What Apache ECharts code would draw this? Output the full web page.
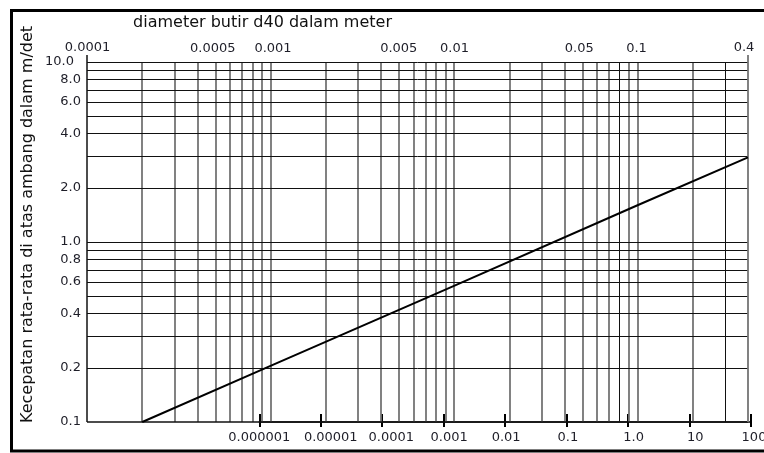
<!DOCTYPE html>
<html><head><meta charset="utf-8">
<script src="https://cdn.jsdelivr.net/npm/echarts@6/dist/echarts.min.js"></script>
<style>html,body{margin:0;padding:0;background:#fff}#c{width:764px;height:453px}</style>
</head><body><div id="c"></div>
<script>
// ---- data ----
const diameterEdges = [0.0001, 0.4];
const diameterEdgeLabels = ['0.0001', '0.4'];
const diameterTicks = [0.0005, 0.001, 0.005, 0.01, 0.05, 0.1];
const diameterTickLabels = ['0.0005', '0.001', '0.005', '0.01', '0.05', '0.1'];
const diameterGrid = [0.0002, 0.0003, 0.0004, 0.0005, 0.0006, 0.0007, 0.0008, 0.0009, 0.001,
  0.002, 0.003, 0.004, 0.005, 0.006, 0.007, 0.008, 0.009, 0.01,
  0.02, 0.03, 0.04, 0.05, 0.06, 0.07, 0.08, 0.09, 0.1,
  0.2, 0.3];
const darkDiameterLines = [0.08, 0.3];
const velocityGrid = [10, 9, 8, 7, 6, 5, 4, 3, 2, 1, 0.9, 0.8, 0.7, 0.6, 0.5, 0.4, 0.3, 0.2, 0.1];
const velocityTicks = [10, 8, 6, 4, 2, 1, 0.8, 0.6, 0.4, 0.2, 0.1];
const velocityTickLabels = ['10.0', '8.0', '6.0', '4.0', '2.0', '1.0', '0.8', '0.6', '0.4', '0.2', '0.1'];
const bottomTicks = [0.000001, 0.00001, 0.0001, 0.001, 0.01, 0.1, 1, 10, 100];
const bottomTickLabels = ['0.000001', '0.00001', '0.0001', '0.001', '0.01', '0.1', '1.0', '10', '100'];
const curveDiameter = [0.0002, 0.001, 0.01, 0.1, 0.4];
const curveVelocity = [0.1, 0.205, 0.57, 1.6, 2.95];

// ---- styles (label nudges in px, as in the original drawing) ----
const topLabelShift = [-2.5, 2.5, 0, 0.5, -3, -1];
const bottomLabelShift = [0, 10, 9, 5.5, 1, 1.3, 5.5, 5.8, 3];
const FONT = '"DejaVu Sans", Verdana, sans-serif';
const TXT = '#1e1e28';
const labelBase = { show: true, fontFamily: FONT, fontSize: 13, color: TXT };
const grayLine = { color: '#747474', width: 1.8, type: 'solid' };
const darkLine = { color: '#111', width: 1, type: 'solid' };

const vLines = diameterGrid.map(d => {
  const i = diameterTicks.indexOf(d);
  return {
    xAxis: d,
    lineStyle: darkDiameterLines.includes(d) ? darkLine : grayLine,
    label: i >= 0 ? Object.assign({}, labelBase, { position: 'end', distance: 7, offset: [topLabelShift[i], 0], formatter: diameterTickLabels[i] }) : { show: false }
  };
});
const edgeLines = diameterEdges.map((d, i) => ({
  xAxis: d,
  lineStyle: i === 0 ? { color: '#111', width: 1.5, type: 'solid' } : grayLine,
  label: Object.assign({}, labelBase, { position: 'end', distance: 1, offset: i === 1 ? [-4, 0] : [0.5, 0], formatter: diameterEdgeLabels[i] })
}));
const hLines = velocityGrid.map(v => {
  const i = velocityTicks.indexOf(v);
  return {
    yAxis: v,
    lineStyle: { color: '#111', width: v === 0.1 ? 1.5 : 1, type: 'solid' },
    label: i >= 0 ? Object.assign({}, labelBase, { position: 'start', distance: v === 10 ? 13 : 6, formatter: velocityTickLabels[i] }) : { show: false }
  };
});

const rich = {};
bottomLabelShift.forEach((s, k) => {
  rich['o' + k] = { fontFamily: FONT, fontSize: 13, color: TXT, padding: [0, 0, 0, 2 * s] };
});
const bottomFmt = v => {
  const k = bottomTicks.findIndex(t => Math.abs(Math.log10(t) - Math.log10(v)) < 1e-6);
  return k >= 0 ? '{o' + k + '|' + bottomTickLabels[k] + '}' : '';
};

const chart = echarts.init(document.getElementById('c'), null, { renderer: 'canvas' });
const ml = data => ({ silent: true, symbol: 'none', animation: false, precision: 12, data: data, emphasis: { disabled: true } });
chart.setOption({
  animation: false,
  backgroundColor: '#fff',
  grid: [
    { left: 87, top: 62, width: 661, height: 360, outerBoundsMode: 'none', containLabel: false },
    { left: 259.3, top: 62, width: 491.7, height: 360, outerBoundsMode: 'none', containLabel: false },
    { left: 87, top: 55, width: 661, height: 367, outerBoundsMode: 'none', containLabel: false }
  ],
  xAxis: [
    { type: 'log', gridIndex: 0, min: 0.0001, max: 0.4, show: false },
    { type: 'log', gridIndex: 1, min: 0.000001, max: 100, position: 'bottom',
      axisLine: { show: true, lineStyle: { color: '#000', width: 1.5 } },
      axisTick: { show: true, inside: true, length: 8, lineStyle: { color: '#000', width: 2 } },
      axisLabel: { show: false }, splitLine: { show: false }, minorTick: { show: false } },
    { type: 'log', gridIndex: 1, min: 0.000001, max: 100, position: 'bottom',
      axisLine: { show: false },
      axisTick: { show: true, inside: false, length: 5, lineStyle: { color: '#000', width: 2 } },
      axisLabel: { show: true, margin: 9, fontFamily: FONT, fontSize: 13, color: TXT, formatter: bottomFmt, rich: rich, hideOverlap: false },
      splitLine: { show: false } },
    { type: 'log', gridIndex: 2, min: 0.0001, max: 0.4, show: false }
  ],
  yAxis: [
    { type: 'log', gridIndex: 0, min: 0.1, max: 10, show: false },
    { type: 'value', gridIndex: 1, min: 0, max: 1, show: false },
    { type: 'value', gridIndex: 2, min: 0, max: 1, show: false }
  ],
  series: [
    { type: 'line', xAxisIndex: 0, yAxisIndex: 0, data: [], silent: true, symbol: 'none', markLine: ml(vLines) },
    { type: 'line', xAxisIndex: 0, yAxisIndex: 0, data: [], silent: true, symbol: 'none', z: 3, markLine: ml(hLines) },
    { type: 'line', xAxisIndex: 3, yAxisIndex: 2, data: [], silent: true, symbol: 'none', markLine: ml(edgeLines) },
    { type: 'line', xAxisIndex: 0, yAxisIndex: 0, z: 5, silent: true, symbol: 'none',
      lineStyle: { color: '#000', width: 2 },
      data: curveDiameter.map((d, i) => [d, curveVelocity[i]]) }
  ],
  graphic: [
    { type: 'rect', silent: true, shape: { x: 11.5, y: 10.5, width: 800, height: 440.5 },
      style: { fill: 'none', stroke: '#000', lineWidth: 3 } },
    { type: 'text', silent: true, x: 262.5, y: 22.5,
      style: { text: 'diameter butir d40 dalam meter', font: '16px ' + FONT, fill: '#111',
        align: 'center', verticalAlign: 'middle', textAlign: 'center', textVerticalAlign: 'middle' } },
    { type: 'text', silent: true, x: 28, y: 224.5, rotation: Math.PI / 2,
      style: { text: 'Kecepatan rata-rata di atas ambang dalam m/det', font: '16px ' + FONT, fill: '#111',
        align: 'center', verticalAlign: 'middle', textAlign: 'center', textVerticalAlign: 'middle' } }
  ]
});
</script></body></html>
